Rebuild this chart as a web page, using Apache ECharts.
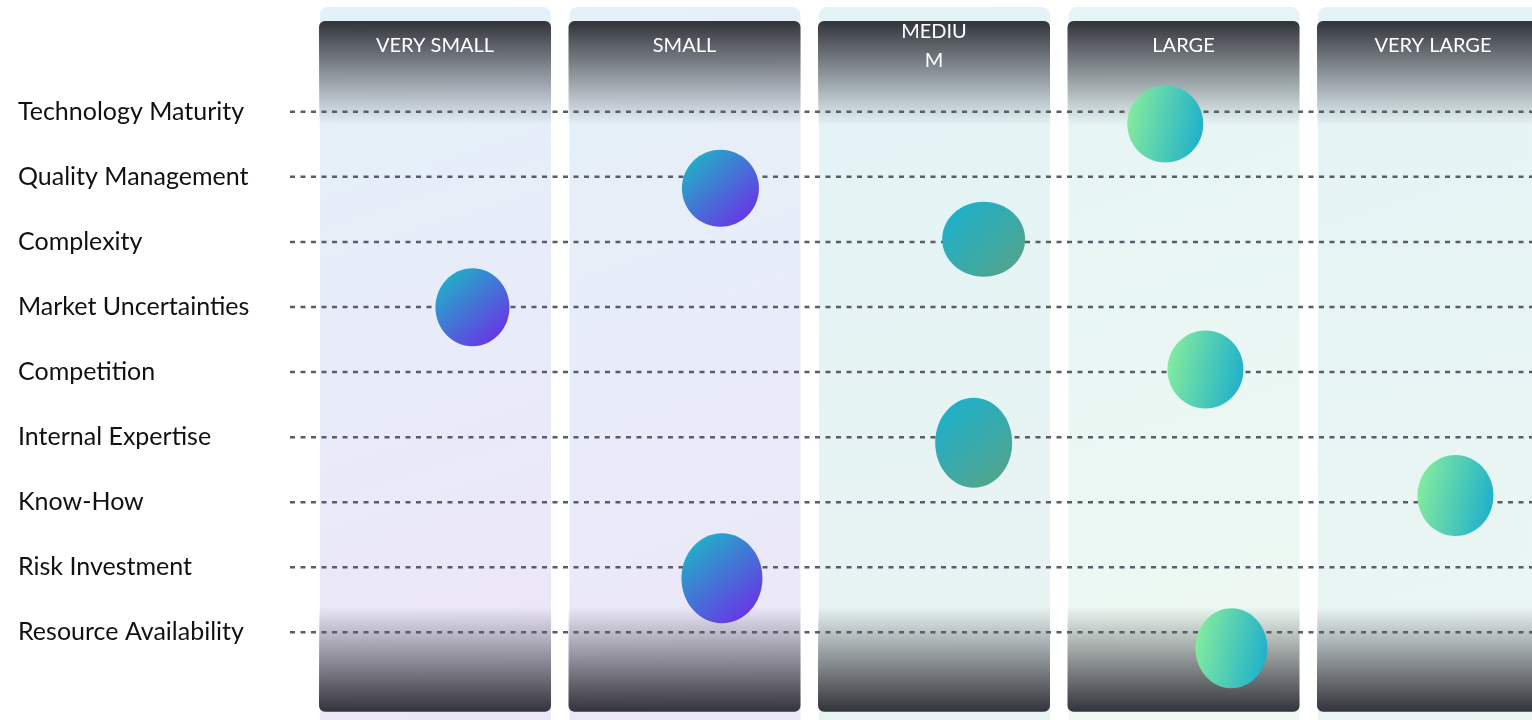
<!DOCTYPE html>
<html><head><meta charset="utf-8">
<script src="https://cdn.jsdelivr.net/npm/echarts@6/dist/echarts.min.js"></script>
<style>html,body{margin:0;padding:0;background:#fff}#c{width:1532px;height:720px}</style>
</head><body><div id="c"></div>
<script>
// ---- data ----
const sizeCategories = ['VERY SMALL', 'SMALL', 'MEDIU\nM', 'LARGE', 'VERY LARGE'];
const factors = ['Technology Maturity', 'Quality Management', 'Complexity', 'Market Uncertainties',
  'Competition', 'Internal Expertise', 'Know-How', 'Risk Investment', 'Resource Availability'];
// bubble position on the size scale (0 = VERY SMALL ... 4 = VERY LARGE)
const bubbleX = [2.927, 1.144, 2.199, 0.150, 3.088, 2.159, 4.090, 1.150, 3.192];
// bubble vertical position in factor rows (0 = first factor)
const bubbleY = [0.19, 1.177, 1.959, 3.004, 3.961, 5.086, 5.897, 7.17, 8.245];
// bubble width / height
const bubbleW = [76, 77, 83, 74, 76, 77, 76, 81, 72];
const bubbleH = [77, 77, 75, 78, 78, 90, 81, 90, 80];

// ---- styles ----
const FONT = 'Lato, "Noto Sans", sans-serif';
const bgTop = ['#e3f2f8', '#e4f2f8', '#e3f3f6', '#e5f4f5', '#e4f3f6'];
const bgBot = ['#ede5f8', '#ede6f8', '#e8f4f1', '#eef9f1', '#eaf6f2'];
const G = echarts.graphic.LinearGradient;
function bubbleFill(col) {
  if (col <= 1) return new G(0.15, 0.1, 0.9, 0.9, [{offset: 0, color: '#22aec8'}, {offset: 1, color: '#6a32e6'}]);
  if (col === 2) return new G(0.15, 0.1, 0.9, 0.9, [{offset: 0, color: '#1eb0ca'}, {offset: 1, color: '#53a48d'}]);
  return new G(0, 0.4, 1, 0.6, [{offset: 0, color: '#84eb9e'}, {offset: 1, color: '#1fb0cb'}]);
}

const chart = echarts.init(document.getElementById('c'));
const option = {
  animation: false,
  backgroundColor: '#ffffff',
  grid: {left: 290, right: 0, top: 79.2, height: 585.7, containLabel: false},
  xAxis: {type: 'value', min: -0.5812, max: 4.3968, show: false},
  yAxis: {
    type: 'category', data: factors, inverse: true, boundaryGap: true,
    axisLine: {show: false}, axisTick: {show: false}, splitLine: {show: false},
    axisLabel: {align: 'left', margin: 272, fontSize: 25, color: '#111', fontFamily: FONT}
  },
  series: [
    {
      type: 'custom', z: 1, clip: false, silent: true,
      data: sizeCategories.map((c, i) => [i, 0]),
      renderItem: function (params, api) {
        const i = api.value(0);
        const c = api.coord([i, 0]);
        const cl = api.coord([i, factors.length - 1]);
        const step = api.size([1, 0])[0];
        const w = step * 0.93;
        const x = c[0] - w / 2;
        const r0 = c[1], rN = cl[1];
        const H = api.getHeight();
        return {
          type: 'group',
          children: [
            {type: 'rect', shape: {x: x + 1, y: r0 - 104.7, width: w - 1, height: H - (r0 - 104.7), r: [8, 8, 0, 0]},
              style: {fill: new G(0, 0, 1, 1, [{offset: 0, color: bgTop[i]}, {offset: 1, color: bgBot[i]}])}},
            {type: 'rect', shape: {x: x, y: r0 - 90.7, width: w, height: 104, r: [6, 6, 0, 0]},
              style: {fill: new G(0, 0, 0, 1, [{offset: 0, color: 'rgba(50,51,59,1)'}, {offset: 1, color: 'rgba(50,51,59,0)'}])}},
            {type: 'rect', shape: {x: x, y: rN - 26, width: w, height: 105.5, r: [0, 0, 6, 6]},
              style: {fill: new G(0, 0, 0, 1, [{offset: 0, color: 'rgba(51,51,59,0)'}, {offset: 1, color: 'rgba(51,51,59,1)'}])}},
            {type: 'text', x: c[0], y: r0 - 65.7,
              style: {text: sizeCategories[i], fill: '#ffffff', fontSize: 20, fontFamily: FONT,
                align: 'center', verticalAlign: 'middle', textAlign: 'center', textVerticalAlign: 'middle', lineHeight: 29}}
          ]
        };
      }
    },
    {
      type: 'custom', z: 2, clip: false, silent: true,
      data: factors.map((f, i) => [0, i]),
      renderItem: function (params, api) {
        const y = api.coord([0, api.value(1)])[1];
        const cs = params.coordSys;
        return {type: 'line', shape: {x1: cs.x, y1: y, x2: cs.x + cs.width, y2: y},
          style: {stroke: '#585d69', lineWidth: 2.5, lineDash: [5, 5.5]}};
      }
    },
    {
      type: 'custom', z: 3, clip: false, silent: true,
      data: bubbleX.map((x, i) => [x, Math.round(bubbleY[i])]),
      renderItem: function (params, api) {
        const i = params.dataIndex;
        const p0 = api.coord([bubbleX[i], 0]);
        const p1 = api.coord([bubbleX[i], 1]);
        const cy = p0[1] + bubbleY[i] * (p1[1] - p0[1]);
        return {type: 'ellipse', shape: {cx: p0[0], cy: cy, rx: bubbleW[i] / 2, ry: bubbleH[i] / 2},
          style: {fill: bubbleFill(Math.round(bubbleX[i]))}};
      }
    }
  ]
};
chart.setOption(option);
</script></body></html>
